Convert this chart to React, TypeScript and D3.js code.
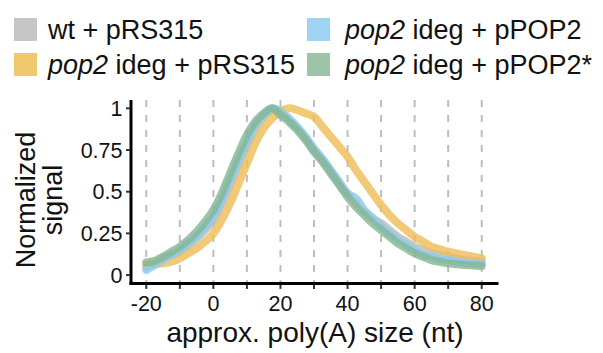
import React from "react";
import * as d3 from "d3";

const sizes = [-20, -17.5, -15, -12.5, -10, -7.5, -5, -2.5, 0, 2.5, 5, 7.5, 10, 12.5, 15, 17.5, 20, 22.5, 25, 27.5, 30, 32.5, 35, 37.5, 40, 42.5, 45, 47.5, 50, 52.5, 55, 57.5, 60, 62.5, 65, 67.5, 70, 72.5, 75, 77.5, 80];

const wtRS315 = [0.05, 0.07, 0.1, 0.12, 0.14, 0.18, 0.22, 0.27, 0.33, 0.43, 0.54, 0.66, 0.78, 0.88, 0.95, 0.99, 0.98, 0.93, 0.88, 0.82, 0.75, 0.69, 0.62, 0.55, 0.49, 0.43, 0.38, 0.34, 0.31, 0.27, 0.23, 0.2, 0.17, 0.15, 0.13, 0.12, 0.11, 0.1, 0.09, 0.085, 0.08];
const pop2RS315 = [0.06, 0.065, 0.07, 0.08, 0.1, 0.13, 0.16, 0.2, 0.25, 0.33, 0.43, 0.55, 0.67, 0.79, 0.88, 0.94, 0.98, 1.0, 0.99, 0.97, 0.95, 0.89, 0.83, 0.77, 0.71, 0.63, 0.56, 0.49, 0.42, 0.36, 0.31, 0.27, 0.23, 0.2, 0.17, 0.155, 0.14, 0.13, 0.12, 0.11, 0.1];
const pop2POP2 = [0.03, 0.06, 0.09, 0.12, 0.15, 0.19, 0.23, 0.29, 0.35, 0.45, 0.57, 0.69, 0.8, 0.9, 0.96, 1.0, 0.98, 0.94, 0.89, 0.83, 0.76, 0.7, 0.63, 0.56, 0.49, 0.46, 0.39, 0.34, 0.29, 0.25, 0.21, 0.18, 0.15, 0.12, 0.11, 0.095, 0.09, 0.08, 0.075, 0.07, 0.07];
const pop2POP2star = [0.075, 0.085, 0.11, 0.14, 0.17, 0.21, 0.26, 0.32, 0.39, 0.49, 0.61, 0.73, 0.84, 0.92, 0.97, 1.0, 0.96, 0.92, 0.87, 0.81, 0.74, 0.68, 0.61, 0.54, 0.47, 0.41, 0.36, 0.31, 0.27, 0.23, 0.19, 0.16, 0.13, 0.11, 0.09, 0.08, 0.07, 0.065, 0.06, 0.058, 0.055];

const xTicks = [-20, 0, 20, 40, 60, 80];
const xMinorTicks = [-20, -10, 0, 10, 20, 30, 40, 50, 60, 70, 80];
const yTicks = [0, 0.25, 0.5, 0.75, 1];
const yTickLabels = ["0", "0.25", "0.5", "0.75", "1"];

const seriesNames = ["wt + pRS315", "pop2 ideg + pRS315", "pop2 ideg + pPOP2", "pop2 ideg + pPOP2*"];
const seriesValues = [wtRS315, pop2RS315, pop2POP2, pop2POP2star];
const lineColors = ["#b9b9b9", "#efbd55", "#8ccbef", "#82b592"];
const legendColors = ["#c6c6c6", "#f0c96f", "#9fd3f2", "#9ec4a8"];

const FONT = "'Liberation Sans', Arial, Helvetica, sans-serif";

export default function App() {
  const x = d3.scaleLinear().domain([-25, 85]).range([129.5, 498.5]);
  const y = d3.scaleLinear().domain([-0.05, 1.05]).range([283.4, 100]);
  const line = d3
    .line<number>()
    .x((_, i) => x(sizes[i]))
    .y((d) => y(d))
    .curve(d3.curveCatmullRom);

  const legendItems = [
    { sq: [14, 18], tx: [48, 38.5] },
    { sq: [14, 53], tx: [48, 73.5] },
    { sq: [307, 18], tx: [345, 38.5] },
    { sq: [307, 53], tx: [345, 73.5] },
  ];

  const renderLabel = (name: string) => {
    if (name.startsWith("pop2")) {
      return (
        <>
          <tspan fontStyle="italic">pop2</tspan>
          <tspan>{name.slice(4)}</tspan>
        </>
      );
    }
    return name;
  };

  return (
    <svg
      width={603}
      height={353}
      style={{ position: "absolute", left: 0, top: 0, background: "#fff" }}
      fontFamily={FONT}
    >
      {seriesNames.map((name, i) => (
        <g key={name}>
          <rect x={legendItems[i].sq[0]} y={legendItems[i].sq[1]} width={23} height={23} fill={legendColors[i]} />
          <text x={legendItems[i].tx[0]} y={legendItems[i].tx[1]} fontSize={27} fill="#111">
            {renderLabel(name)}
          </text>
        </g>
      ))}

      {xMinorTicks.map((t) => (
        <line
          key={"g" + t}
          x1={x(t)}
          x2={x(t)}
          y1={y(1.05)}
          y2={y(-0.05)}
          stroke="#bdbdbd"
          strokeWidth={2}
          strokeDasharray="7,8"
        />
      ))}

      {seriesValues.map((vals, i) => (
        <path
          key={"s" + i}
          d={line(vals) || ""}
          fill="none"
          stroke={lineColors[i]}
          strokeWidth={8}
          strokeOpacity={0.8}
          strokeLinejoin="round"
          strokeLinecap="round"
        />
      ))}

      <line x1={131} x2={131} y1={y(1.05)} y2={y(-0.05) + 1.5} stroke="#000" strokeWidth={3} />
      <line x1={129.5} x2={498.5} y1={y(-0.05)} y2={y(-0.05)} stroke="#000" strokeWidth={3} />

      {yTicks.map((t, i) => (
        <g key={"y" + t}>
          <line x1={126} x2={130} y1={y(t)} y2={y(t)} stroke="#333" strokeWidth={2} />
          <text x={122.5} y={y(t)} dy="0.36em" textAnchor="end" fontSize={21.5} fill="#111">
            {yTickLabels[i]}
          </text>
        </g>
      ))}

      {xMinorTicks.map((t) => (
        <line key={"xt" + t} x1={x(t)} x2={x(t)} y1={y(-0.05) + 1.5} y2={y(-0.05) + 5.5} stroke="#333" strokeWidth={2} />
      ))}
      {xTicks.map((t) => (
        <text key={"xl" + t} x={x(t)} y={311} textAnchor="middle" fontSize={21.5} fill="#111">
          {t}
        </text>
      ))}

      <text x={315} y={342} textAnchor="middle" fontSize={28} fill="#111">
        approx. poly(A) size (nt)
      </text>
      <g transform="translate(35,200) rotate(-90)">
        <text x={0} y={0} textAnchor="middle" fontSize={27} fill="#111">
          Normalized
        </text>
      </g>
      <g transform="translate(62,200) rotate(-90)">
        <text x={0} y={0} textAnchor="middle" fontSize={27} fill="#111">
          signal
        </text>
      </g>
    </svg>
  );
}
